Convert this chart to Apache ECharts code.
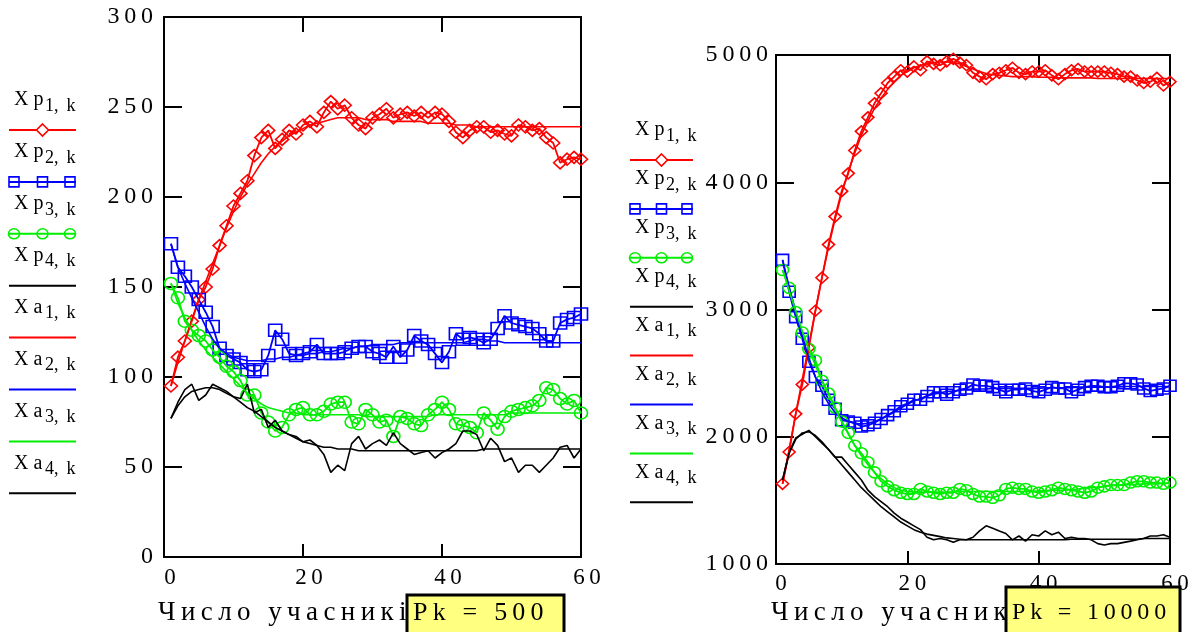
<!DOCTYPE html>
<html>
<head>
<meta charset="utf-8">
<script src="https://cdn.jsdelivr.net/npm/echarts@6.0.0/dist/echarts.min.js"></script>
<style>
  html, body { margin: 0; padding: 0; background: #fff; }
  #chart { width: 1203px; height: 632px; }
</style>
</head>
<body>
<div id="chart"></div>
<script>
// k = 1..60 (номер кроку)
const steps = Array.from({ length: 60 }, (_, i) => i + 1)

// ---- Pk = 500 (лівий графік) ----
const xp1Small = [95, 111, 120, 131, 143, 150, 160, 173, 184, 195, 202, 209, 223, 233, 237, 227, 232, 237, 235, 240, 242, 239, 247, 253, 249, 251, 244, 240, 238, 244, 246, 249, 244, 246, 247, 245, 247, 244, 247, 246, 242, 236, 233, 237, 239, 239, 236, 237, 235, 234, 240, 239, 237, 238, 233, 230, 219, 221, 222, 221]
const xp2Small = [174, 161, 156, 150, 143, 136, 128, 116, 112, 110, 108, 104, 103, 104, 112, 126, 121, 113, 112, 113, 114, 118, 113, 113, 113, 114, 116, 117, 117, 114, 113, 111, 117, 111, 115, 123, 120, 118, 113, 108, 114, 124, 121, 122, 121, 119, 121, 127, 134, 130, 129, 128, 127, 124, 120, 120, 130, 132, 133, 135]
const xp3Small = [152, 144, 131, 126, 123, 120, 115, 111, 106, 103, 98, 90, 90, 80, 75, 70, 72, 79, 82, 83, 79, 79, 81, 85, 86, 86, 75, 74, 82, 79, 75, 76, 67, 78, 77, 74, 73, 79, 82, 86, 82, 74, 73, 72, 69, 80, 76, 71, 78, 81, 82, 83, 84, 87, 94, 93, 88, 85, 87, 80]
const xp4Small = [77, 86, 93, 96, 87, 90, 96, 94, 92, 89, 88, 96, 80, 82, 72, 76, 70, 68, 67, 64, 65, 62, 57, 47, 51, 48, 63, 67, 60, 63, 65, 62, 69, 63, 60, 57, 58, 59, 55, 58, 60, 63, 70, 70, 68, 59, 66, 62, 53, 55, 47, 51, 51, 47, 51, 55, 61, 62, 55, 60]
const xa1Small = [95, 108, 120, 132, 143, 153, 163, 173, 183, 192, 200, 207, 213, 219, 224, 228, 231, 234, 236, 238, 240, 241, 242, 243, 244, 244, 244, 244, 243, 243, 243, 243, 242, 242, 242, 242, 242, 241, 241, 241, 241, 240, 240, 240, 239, 239, 239, 239, 239, 239, 239, 239, 239, 239, 239, 239, 239, 239, 239, 239]
const xa2Small = [174, 161, 152, 144, 136, 128, 121, 116, 113, 111, 110, 109, 109, 109, 110, 110, 111, 111, 112, 112, 113, 113, 114, 114, 115, 116, 116, 117, 117, 118, 118, 118, 118, 119, 119, 119, 119, 119, 119, 119, 119, 119, 119, 120, 121, 121, 120, 120, 119, 119, 119, 119, 119, 119, 119, 119, 119, 119, 119, 119]
const xa3Small = [152, 141, 133, 126, 120, 115, 111, 107, 103, 99, 95, 91, 88, 85, 83, 82, 81, 80, 80, 79, 79, 79, 79, 79, 79, 79, 79, 79, 78, 78, 78, 78, 78, 78, 78, 78, 78, 78, 79, 79, 79, 79, 79, 79, 79, 79, 79, 79, 79, 80, 80, 80, 80, 80, 80, 80, 80, 80, 80, 80]
const xa4Small = [77, 84, 89, 92, 93, 94, 94, 93, 91, 89, 86, 83, 81, 78, 75, 72, 70, 68, 66, 64, 63, 62, 61, 61, 60, 60, 60, 59, 59, 59, 59, 59, 59, 59, 59, 59, 59, 59, 59, 59, 59, 59, 59, 59, 59, 60, 60, 60, 60, 60, 60, 60, 60, 60, 60, 60, 60, 60, 60, 60]

// ---- Pk = 10000 (правий графік) ----
const xp1Big = [1630, 1880, 2180, 2410, 2700, 2990, 3250, 3510, 3730, 3930, 4070, 4250, 4400, 4510, 4620, 4700, 4780, 4830, 4880, 4870, 4910, 4880, 4950, 4930, 4920, 4950, 4970, 4940, 4920, 4860, 4830, 4810, 4850, 4860, 4880, 4900, 4860, 4850, 4870, 4870, 4880, 4840, 4810, 4850, 4880, 4890, 4870, 4870, 4870, 4870, 4860, 4850, 4830, 4830, 4800, 4780, 4790, 4820, 4760, 4790]
const xp2Big = [3390, 3140, 2940, 2770, 2590, 2470, 2400, 2290, 2220, 2130, 2120, 2110, 2080, 2090, 2110, 2140, 2170, 2200, 2240, 2260, 2290, 2290, 2320, 2350, 2350, 2330, 2350, 2370, 2380, 2410, 2400, 2400, 2390, 2370, 2350, 2370, 2370, 2380, 2360, 2350, 2370, 2390, 2380, 2380, 2350, 2370, 2390, 2400, 2400, 2390, 2390, 2400, 2420, 2420, 2410, 2380, 2360, 2370, 2380, 2400]
const xp3Big = [3310, 3170, 2980, 2820, 2690, 2600, 2440, 2340, 2230, 2120, 2030, 1930, 1870, 1800, 1720, 1650, 1610, 1580, 1560, 1550, 1550, 1590, 1570, 1560, 1550, 1560, 1560, 1590, 1580, 1550, 1530, 1530, 1520, 1540, 1590, 1600, 1590, 1590, 1570, 1560, 1570, 1580, 1600, 1590, 1580, 1570, 1560, 1570, 1600, 1610, 1620, 1620, 1620, 1640, 1650, 1650, 1640, 1640, 1630, 1640]
const xp4Big = [1660, 1880, 1990, 2020, 2050, 2000, 1950, 1900, 1840, 1840, 1780, 1720, 1660, 1580, 1530, 1490, 1450, 1400, 1360, 1330, 1300, 1270, 1210, 1190, 1200, 1190, 1170, 1190, 1190, 1210, 1260, 1300, 1280, 1260, 1240, 1190, 1220, 1180, 1230, 1220, 1260, 1230, 1250, 1200, 1210, 1200, 1200, 1190, 1160, 1150, 1160, 1160, 1170, 1180, 1190, 1200, 1220, 1220, 1230, 1210]
const xa1Big = [1630, 1900, 2180, 2450, 2720, 2990, 3250, 3490, 3710, 3910, 4080, 4230, 4370, 4480, 4580, 4660, 4730, 4790, 4840, 4870, 4900, 4920, 4930, 4940, 4945, 4945, 4940, 4930, 4910, 4890, 4870, 4855, 4845, 4840, 4835, 4830, 4830, 4830, 4830, 4825, 4825, 4825, 4820, 4820, 4820, 4820, 4820, 4820, 4815, 4815, 4815, 4815, 4815, 4815, 4815, 4815, 4815, 4815, 4815, 4815]
const xa2Big = [3390, 3180, 2980, 2790, 2620, 2470, 2350, 2260, 2190, 2150, 2120, 2105, 2100, 2105, 2120, 2140, 2165, 2195, 2225, 2255, 2280, 2300, 2320, 2335, 2345, 2355, 2360, 2365, 2370, 2375, 2375, 2375, 2380, 2380, 2380, 2380, 2380, 2380, 2380, 2380, 2385, 2385, 2385, 2385, 2385, 2390, 2390, 2390, 2390, 2390, 2390, 2390, 2395, 2395, 2395, 2395, 2395, 2395, 2395, 2395]
const xa3Big = [3310, 3150, 2990, 2830, 2690, 2560, 2440, 2330, 2220, 2120, 2020, 1930, 1850, 1780, 1720, 1670, 1630, 1600, 1580, 1570, 1565, 1565, 1565, 1565, 1565, 1565, 1565, 1570, 1570, 1570, 1570, 1570, 1570, 1570, 1570, 1570, 1570, 1570, 1570, 1575, 1575, 1580, 1580, 1580, 1585, 1590, 1595, 1600, 1605, 1610, 1615, 1620, 1620, 1625, 1625, 1630, 1630, 1630, 1635, 1635]
const xa4Big = [1660, 1870, 1980, 2030, 2040, 2010, 1960, 1900, 1840, 1780, 1720, 1660, 1600, 1550, 1500, 1450, 1410, 1370, 1330, 1300, 1270, 1250, 1235, 1225, 1215, 1205, 1200, 1195, 1190, 1190, 1190, 1190, 1190, 1190, 1190, 1190, 1190, 1190, 1190, 1190, 1190, 1190, 1190, 1190, 1195, 1195, 1195, 1195, 1195, 1195, 1195, 1195, 1195, 1195, 1195, 1200, 1200, 1200, 1200, 1200]

const yTicksSmall = { min: 0, max: 300, interval: 50 }
const yTicksBig = { min: 1000, max: 5000, interval: 1000 }
const xTicks = { min: 0, max: 60, interval: 20 }
const axisTitle = 'Число учасників'
const pkSmall = 'Pk = 500'
const pkBig = 'Pk = 10000'

const serif = '"Liberation Serif", "Times New Roman", serif'
const RED = '#ff0000'
const BLUE = '#0000ff'
const GREEN = '#00ee00'
const BLACK = '#000000'

// mathcad-style letter spacing
const spaced = (s, gap) => String(s).split('').join(gap)

// серії: назва, колір, маркер
const legendItems = [
  { letter: 'p', idx: 1, color: RED, mark: 'diamond' },
  { letter: 'p', idx: 2, color: BLUE, mark: 'rect' },
  { letter: 'p', idx: 3, color: GREEN, mark: 'circle' },
  { letter: 'p', idx: 4, color: BLACK, mark: null },
  { letter: 'a', idx: 1, color: RED, mark: null },
  { letter: 'a', idx: 2, color: BLUE, mark: null },
  { letter: 'a', idx: 3, color: GREEN, mark: null },
  { letter: 'a', idx: 4, color: BLACK, mark: null }
]

const pair = vals => vals.map((v, i) => [steps[i], v])

function makeSeries(sets, axisIdx, symSize) {
  return sets.map((vals, i) => {
    const it = legendItems[i]
    const s = {
      type: 'line',
      name: 'X' + it.letter + it.idx,
      xAxisIndex: axisIdx,
      yAxisIndex: axisIdx,
      data: pair(vals),
      smooth: false,
      silent: true,
      emphasis: { disabled: true },
      lineStyle: { color: it.color, width: it.mark ? 1.8 : 1.6 },
      z: 2 + i
    }
    if (it.mark) {
      s.symbol = it.mark
      s.symbolSize = symSize
      s.showSymbol = true
      s.showAllSymbol = true
      s.itemStyle = { color: 'rgba(0,0,0,0)', borderColor: it.color, borderWidth: 1.6 }
    } else {
      s.symbol = 'none'
      s.showSymbol = false
      s.itemStyle = { color: it.color }
    }
    return s
  })
}

function legendBlock(x0, y0, gap, lineW) {
  const out = []
  legendItems.forEach((it, i) => {
    const ly = y0 + i * gap
    out.push({
      type: 'text', x: x0 + 5, y: ly - 30, z: 5,
      style: { text: 'X ' + it.letter, fontSize: 20, fontFamily: serif, fill: '#000', verticalAlign: 'middle', textVerticalAlign: 'middle' }
    })
    out.push({
      type: 'text', x: x0 + 36, y: ly - 24, z: 5,
      style: { text: it.idx + ', \u2009k', fontSize: 18, fontFamily: serif, fill: '#000', verticalAlign: 'middle', textVerticalAlign: 'middle' }
    })
    out.push({
      type: 'line', z: 5,
      shape: { x1: x0, y1: ly, x2: x0 + lineW, y2: ly },
      style: { stroke: it.color, lineWidth: 2 }
    })
    const mid = x0 + lineW / 2
    const spots = [x0 + 5, mid, x0 + lineW - 6]
    if (it.mark === 'diamond') {
      out.push({
        type: 'polygon', z: 6,
        shape: { points: [[mid, ly - 6], [mid + 6, ly], [mid, ly + 6], [mid - 6, ly]] },
        style: { fill: '#fff', stroke: it.color, lineWidth: 1.6 }
      })
    } else if (it.mark === 'rect') {
      spots.forEach(cx => out.push({
        type: 'rect', z: 6,
        shape: { x: cx - 5, y: ly - 5, width: 10, height: 10 },
        style: { fill: 'none', stroke: it.color, lineWidth: 1.6 }
      }))
    } else if (it.mark === 'circle') {
      spots.forEach(cx => out.push({
        type: 'ellipse', z: 6,
        shape: { cx: cx, cy: ly, rx: 5.5, ry: 5 },
        style: { fill: 'none', stroke: it.color, lineWidth: 1.6 }
      }))
    }
  })
  return out
}

function footer(textX, boxX, boxY, boxW, fontTitle, pkText, fontPk) {
  return [
    {
      type: 'text', x: textX, y: 613, z: 10,
      style: { text: spaced(axisTitle, '\u2009'), fontSize: fontTitle, fontFamily: serif, fill: '#000', verticalAlign: 'middle', textVerticalAlign: 'middle' }
    },
    {
      type: 'rect', z: 20,
      shape: { x: boxX, y: boxY, width: boxW, height: 60 },
      style: { fill: '#ffff80', stroke: '#000', lineWidth: 3 }
    },
    {
      type: 'text', x: boxX + 6, y: 613, z: 21,
      style: { text: spaced(pkText, '\u2009'), fontSize: fontPk, fontFamily: serif, fill: '#000', verticalAlign: 'middle', textVerticalAlign: 'middle' }
    }
  ]
}

const frame = { show: true, onZero: false, lineStyle: { color: '#000', width: 2 } }
const tickStyle = { color: '#000', width: 2 }

function xAxes(gridIndex, labelPad, margin, fontSize) {
  return [
    {
      type: 'value', gridIndex, position: 'bottom', ...xTicks,
      axisLine: frame,
      axisTick: { show: true, inside: true, length: 13, lineStyle: tickStyle },
      axisLabel: {
        show: true, color: '#000', fontFamily: serif, fontSize, margin,
        padding: [0, 0, 0, labelPad],
        formatter: v => spaced(v, '\u2009')
      },
      splitLine: { show: false }
    },
    {
      type: 'value', gridIndex, position: 'top', ...xTicks,
      axisLine: frame,
      axisTick: { show: true, inside: true, length: 15, lineStyle: tickStyle },
      axisLabel: { show: false },
      splitLine: { show: false }
    }
  ]
}

function yAxes(gridIndex, ticks, gap, margin, fontSize) {
  return [
    {
      type: 'value', gridIndex, position: 'left', ...ticks,
      axisLine: frame,
      axisTick: { show: true, inside: true, length: 18, lineStyle: tickStyle },
      axisLabel: {
        show: true, color: '#000', fontFamily: serif, fontSize, margin,
        formatter: v => spaced(v, gap)
      },
      splitLine: { show: false }
    },
    {
      type: 'value', gridIndex, position: 'right', ...ticks,
      axisLine: frame,
      axisTick: { show: true, inside: true, length: 18, lineStyle: tickStyle },
      axisLabel: { show: false },
      splitLine: { show: false }
    }
  ]
}

const chart = echarts.init(document.getElementById('chart'), null, { renderer: 'canvas' })

const smallSets = [xp1Small, xp2Small, xp3Small, xp4Small, xa1Small, xa2Small, xa3Small, xa4Small]
const bigSets = [xp1Big, xp2Big, xp3Big, xp4Big, xa1Big, xa2Big, xa3Big, xa4Big]

const xAxisList = [...xAxes(0, 12, 9, 23), ...xAxes(1, 10, 8, 23)]
const yAxisList = [...yAxes(0, yTicksSmall, '\u2009', 11, 24), ...yAxes(1, yTicksBig, '\u2009', 8, 24)]

// bottom x (0/2) pairs with left y (0/2)
const seriesSmall = makeSeries(smallSets, 0, [13, 12])
const seriesBig = makeSeries(bigSets, 2, [12, 11])

chart.setOption({
  animation: false,
  backgroundColor: '#fff',
  grid: [
    { left: 164, top: 17, width: 417, height: 540 },
    { left: 776, top: 55, width: 394, height: 509 }
  ],
  xAxis: xAxisList,
  yAxis: yAxisList,
  series: [...seriesSmall, ...seriesBig],
  graphic: [
    ...legendBlock(9, 130, 51.9, 67),
    ...legendBlock(630, 160, 48.9, 63),
    ...footer(158, 407, 595, 157, 27, pkSmall, 26),
    ...footer(771, 1006, 587, 174, 27, pkBig, 24)
  ]
})
</script>
</body>
</html>
